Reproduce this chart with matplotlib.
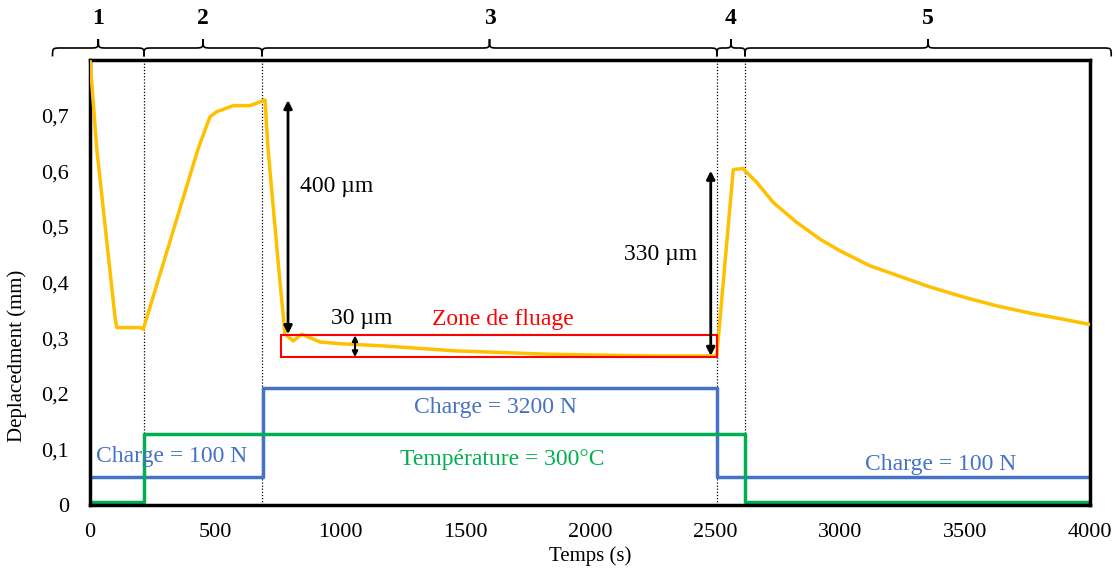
import numpy as np
import matplotlib.pyplot as plt
from matplotlib.path import Path
from matplotlib.patches import PathPatch, Rectangle
import matplotlib.transforms as mtransforms

plt.rcParams['font.family'] = ['Liberation Serif', 'DejaVu Serif']

# displacement curve (s, mm)
t_disp = [0, 27, 100, 107, 200, 213, 432, 480, 507, 573, 640, 700,
          712, 760, 780, 813, 847, 920, 1000, 1173, 1467, 1840, 2240, 2507,
          2573, 2613, 2620, 2667, 2733, 2827, 2920, 3000, 3120, 3253, 3360,
          3493, 3627, 3760, 3893, 3995]
y_disp = [0.80, 0.64, 0.337, 0.319, 0.319, 0.316, 0.64, 0.698, 0.707, 0.718, 0.718, 0.728,
          0.64, 0.40, 0.307, 0.295, 0.307, 0.293, 0.290, 0.286, 0.277, 0.271, 0.268, 0.268,
          0.603, 0.605, 0.601, 0.580, 0.544, 0.508, 0.478, 0.457, 0.430, 0.409, 0.392,
          0.374, 0.358, 0.345, 0.334, 0.325]

# load and temperature steps (scaled to the displacement axis)
t_charge = [0, 690, 690, 2510, 2510, 4000]
y_charge = [0.05, 0.05, 0.21, 0.21, 0.05, 0.05]
t_temp = [0, 215, 215, 2620, 2620, 4000]
y_temp = [0.006, 0.006, 0.127, 0.127, 0.006, 0.006]

phase_bounds = [-150, 216, 688, 2508, 2620, 4085]
phase_labels = ['1', '2', '3', '4', '5']
phase_lines = [216, 688, 2508, 2620]

yellow = '#FFC000'
blue = '#4472C4'
green = '#00B050'
red = '#FF0000'

fig = plt.figure(figsize=(11.17, 5.71), dpi=100)
ax = fig.add_axes([0.0806, 0.1156, 0.8952, 0.7793])

for x in phase_lines:
    ax.plot([x, x], [0, 0.8], color='black', lw=0.9, ls=(0, (1, 1.5)), zorder=1)

ax.plot(t_charge, y_charge, color=blue, lw=2.5, zorder=2)
ax.plot(t_temp, y_temp, color=green, lw=2.5, zorder=2)
ax.plot(t_disp, y_disp, color=yellow, lw=2.5, zorder=3)

# creep zone box
ax.add_patch(Rectangle((764, 0.266), 2509 - 764, 0.305 - 0.266, fill=False,
                       edgecolor=red, lw=1.5, zorder=4))
ax.text(1652, 0.334, 'Zone de fluage', color=red, fontsize=17, ha='center', va='center')

# dimension arrows
arrow = dict(arrowstyle='<|-|>', color='black', lw=2, mutation_scale=12, shrinkA=0, shrinkB=0)
ax.annotate('', xy=(792, 0.728), xytext=(792, 0.307), arrowprops=arrow, zorder=5)
ax.text(840, 0.572, '400 µm', fontsize=17, ha='left', va='center')
ax.annotate('', xy=(2483, 0.601), xytext=(2483, 0.268), arrowprops=arrow, zorder=5)
ax.text(2430, 0.451, '330 µm', fontsize=17, ha='right', va='center')
small = dict(arrowstyle='<|-|>', color='black', lw=1.5, mutation_scale=8, shrinkA=0, shrinkB=0)
ax.annotate('', xy=(1060, 0.305), xytext=(1060, 0.266), arrowprops=small, zorder=5)
ax.text(1085, 0.336, '30 µm', fontsize=17, ha='center', va='center')

ax.text(25, 0.087, 'Charge = 100 N', color=blue, fontsize=17, ha='left', va='center')
ax.text(1620, 0.175, 'Charge = 3200 N', color=blue, fontsize=17, ha='center', va='center')
ax.text(1650, 0.081, 'Température = 300°C', color=green, fontsize=17, ha='center', va='center')
ax.text(3404, 0.072, 'Charge = 100 N', color=blue, fontsize=17, ha='center', va='center')

# phase braces above the plot
trans = mtransforms.blended_transform_factory(ax.transData, ax.transAxes)


def brace(x0, x1, label):
    yb, ye, yt = 1.027, 1.008, 1.047
    xm = (x0 + x1) / 2
    r = min(35, (x1 - x0) / 4)
    verts = [(x0, ye), (x0, yb), (x0, yb), (x0 + r, yb),
             (xm - r, yb),
             (xm, yb), (xm, yb), (xm, yt),
             (xm, yb), (xm, yb), (xm + r, yb),
             (x1 - r, yb),
             (x1, yb), (x1, yb), (x1, ye)]
    codes = [Path.MOVETO, Path.CURVE4, Path.CURVE4, Path.CURVE4,
             Path.LINETO,
             Path.CURVE4, Path.CURVE4, Path.CURVE4,
             Path.CURVE4, Path.CURVE4, Path.CURVE4,
             Path.LINETO,
             Path.CURVE4, Path.CURVE4, Path.CURVE4]
    ax.add_patch(PathPatch(Path(verts, codes), transform=trans, fill=False,
                           lw=1.2, color='black', clip_on=False))
    ax.text(xm, 1.094, label, transform=trans, fontsize=17, fontweight='bold',
            ha='center', va='center')


for i, lab in enumerate(phase_labels):
    brace(phase_bounds[i], phase_bounds[i + 1], lab)

ax.set_xlim(0, 4000)
ax.set_ylim(0, 0.8)
ax.set_xticks(np.arange(0, 4001, 500))
ax.set_yticks(np.arange(0, 0.71, 0.1))
ax.set_yticklabels(['0', '0,1', '0,2', '0,3', '0,4', '0,5', '0,6', '0,7'])
ax.tick_params(axis='x', length=0, labelsize=16, pad=13)
ax.tick_params(axis='y', length=0, labelsize=16, pad=15)
for s in ax.spines.values():
    s.set_linewidth(2.5)
ax.set_xlabel('Temps (s)', fontsize=15, labelpad=3)
ax.set_ylabel('Deplacedment (mm)', fontsize=15)
ax.yaxis.set_label_coords(-0.063, 0.335)

fig.savefig('out.png', dpi=100)
